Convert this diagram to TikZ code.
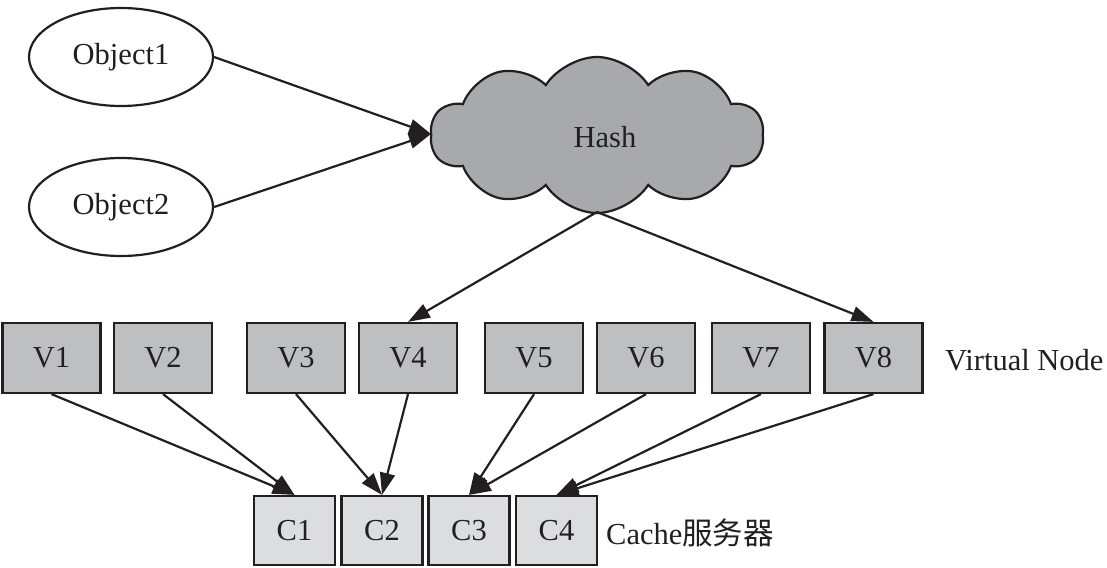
\documentclass[tikz,border=0pt]{standalone}
\usepackage{fontspec}
\setmainfont{Liberation Serif}
\newfontfamily\cjk{Noto Sans CJK SC}
\usetikzlibrary{shapes.geometric,shapes.symbols,arrows.meta}
\definecolor{cloudgray}{HTML}{A7A9AC}
\definecolor{vgray}{HTML}{BEBFC1}
\definecolor{cgray}{HTML}{DCDDDF}
\definecolor{ink}{HTML}{231F20}
\tikzset{
  objnode/.style={ellipse,draw=ink,line width=2.2pt,fill=white,minimum width=184pt,minimum height=98pt,inner sep=0pt},
  hashnode/.style={cloud,cloud puffs=10,cloud puff arc=115,cloud ignores aspect,draw=ink,line width=2.2pt,fill=cloudgray,minimum width=333pt,minimum height=156pt,inner sep=0pt},
  vbox/.style={rectangle,draw=ink,line width=2.2pt,fill=vgray,minimum width=98pt,minimum height=70pt,inner sep=0pt},
  cbox/.style={rectangle,draw=ink,line width=2.2pt,fill=cgray,minimum width=81pt,minimum height=69pt,inner sep=0pt},
  conn/.style={draw=ink,line width=2.2pt,-{Triangle[length=22pt,width=15pt]}},
  lbl/.style={anchor=west,inner sep=0pt,text=ink}
}
\begin{document}
\begin{tikzpicture}[x=1pt,y=-1pt,font=\fontsize{30.5}{36}\selectfont,text=ink]
\useasboundingbox (0,0) rectangle (1107,567);
\node[objnode] (o1) at (121,57) {Object1};
\node[objnode] (o2) at (121,207) {Object2};
\node[hashnode] (hash) at (597,135) {};
\node[text=ink] (hashlbl) at (605,137) {Hash};
\coordinate (hin) at (431,134);
\coordinate (hout) at (597,212);
\node[vbox] (v1) at (51.5,358) {V1};
\node[vbox] (v2) at (163,358) {V2};
\node[vbox] (v3) at (296,358) {V3};
\node[vbox] (v4) at (408,358) {V4};
\node[vbox] (v5) at (534,358) {V5};
\node[vbox] (v6) at (646,358) {V6};
\node[vbox] (v7) at (761,358) {V7};
\node[vbox] (v8) at (873.5,358) {V8};
\node[lbl] (vlabel) at (945,360) {Virtual Node};
\node[cbox] (c1) at (294.5,530.5) {C1};
\node[cbox] (c2) at (382,530.5) {C2};
\node[cbox] (c3) at (469,530.5) {C3};
\node[cbox] (c4) at (556.5,530.5) {C4};
\node[lbl] (clabel) at (606,533) {Cache{\cjk 服务器}};
\draw[conn] (o1.east) -- (hin);
\draw[conn] (o2.east) -- (hin);
\draw[conn] (hout) -- (v4.north);
\draw[conn] (hout) -- (v8.north);
\draw[conn] (v1.south) -- (c1.north);
\draw[conn] (v2.south) -- (c1.north);
\draw[conn] (v3.south) -- (c2.north);
\draw[conn] (v4.south) -- (c2.north);
\draw[conn] (v5.south) -- (c3.north);
\draw[conn] (v6.south) -- (c3.north);
\draw[conn] (v7.south) -- (c4.north);
\draw[conn] (v8.south) -- (c4.north);
\end{tikzpicture}
\end{document}
